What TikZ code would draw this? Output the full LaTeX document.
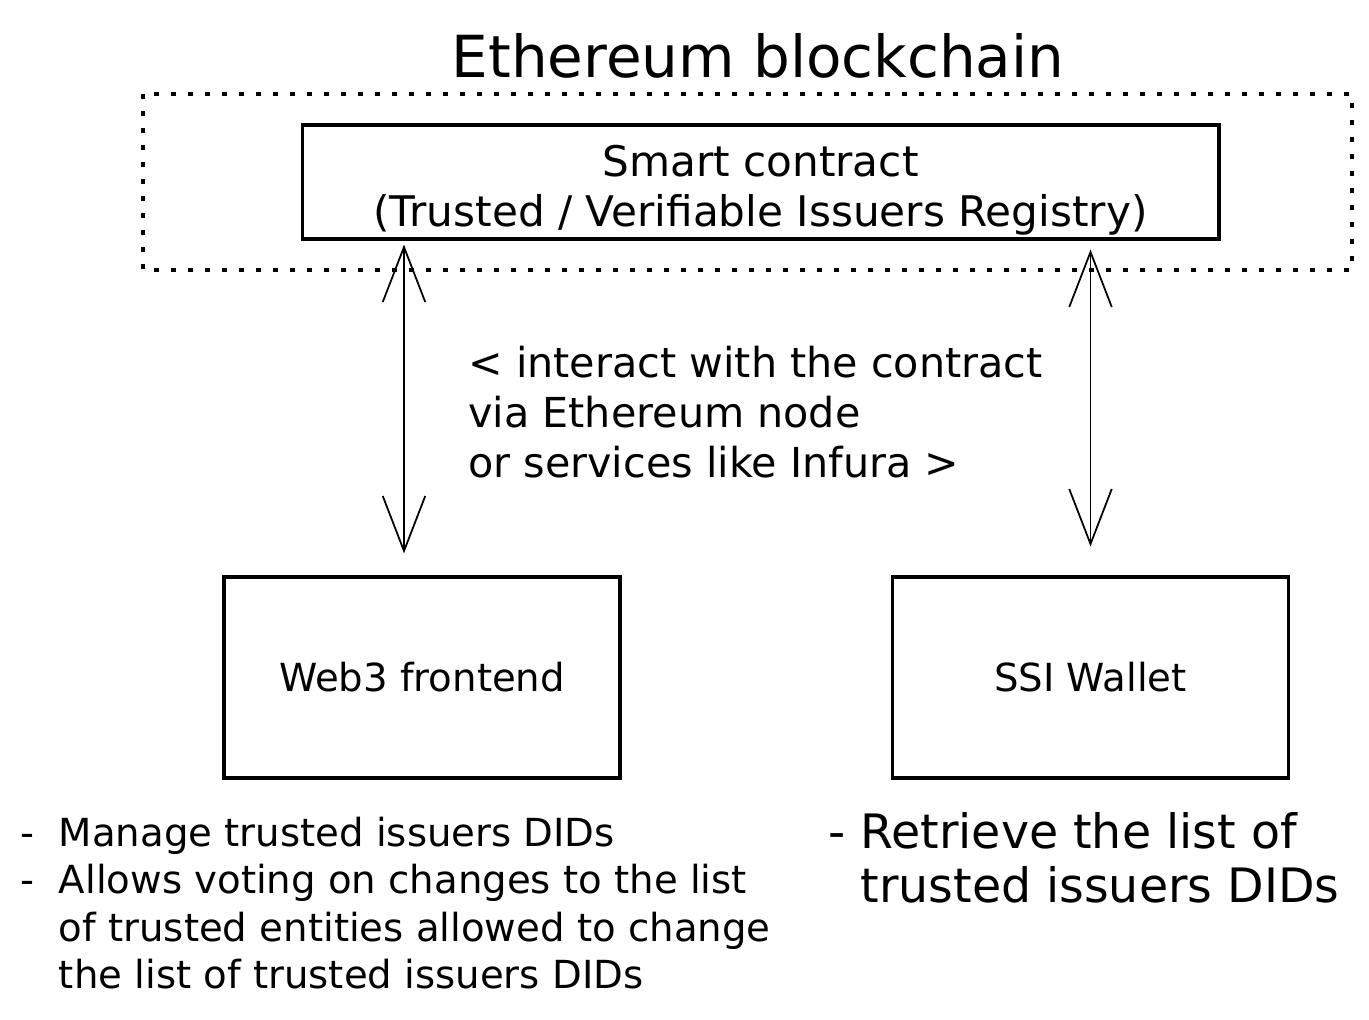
\documentclass[tikz,border=0pt]{standalone}
\usepackage{fontspec}
\setmainfont{DejaVu Sans}
\usetikzlibrary{arrows.meta}

\begin{document}
\begin{tikzpicture}[x = 0.02cm, y = -0.02cm,
        box/.style = {draw, line width = 1.8pt, minimum width = 7.92cm, minimum height = 4.02cm, align = center, inner sep = 0pt, font = \fontsize{22}{28}\selectfont},
        note/.style = {anchor = west, align = left, inner sep = 0pt, font = \fontsize{22}{27}\selectfont},
        twoway/.style = {line width = 1pt, >={Straight Barb[length = 1.1cm, width = 0.85cm]}, <->}]
    \useasboundingbox (0, 0) rectangle (1369, 1020);
    \draw[line width = 1.8pt, dash pattern = on 0.1cm off 0.24cm] (143, 94) rectangle (1352, 270);
    \draw (758, 78) node[anchor = base, inner sep = 0pt, font = \fontsize{33}{40}\selectfont] (title) {Ethereum blockchain}
          (760.5, 182) node[box, minimum width = 18.34cm, minimum height = 2.28cm, font = \fontsize{24}{28.5}\selectfont] (sc) {\rule{0pt}{27pt}Smart contract\\(Trusted / Verifiable Issuers Registry)}
          (422, 677.5) node[box] (web) {Web3 frontend}
          (1090.5, 677.5) node[box] (ssi) {SSI Wallet}
          (468, 412) node[note, font = \fontsize{23.5}{28.5}\selectfont] (via) {< interact with the contract\\via Ethereum node\\or services like Infura >}
          (20, 903) node[note] (webnotes) {-\ \ Manage trusted issuers DIDs\\-\ \ Allows voting on changes to the list\\\phantom{-\ \ }of trusted entities allowed to change\\\phantom{-\ \ }the list of trusted issuers DIDs}
          (828, 858) node[note, font = \fontsize{27}{31}\selectfont] (ssinotes) {- Retrieve the list of\\\phantom{- }trusted issuers DIDs};
    \coordinate (lft) at (404, 0);
    \draw[twoway, shorten < = 0.08cm, shorten > = 0.44cm] (sc.south -| lft) -- (web.north -| lft);
    \draw[twoway, shorten < = 0.18cm, shorten > = 0.58cm] (sc.south -| ssi.north) -- (ssi.north);
\end{tikzpicture}
\end{document}
